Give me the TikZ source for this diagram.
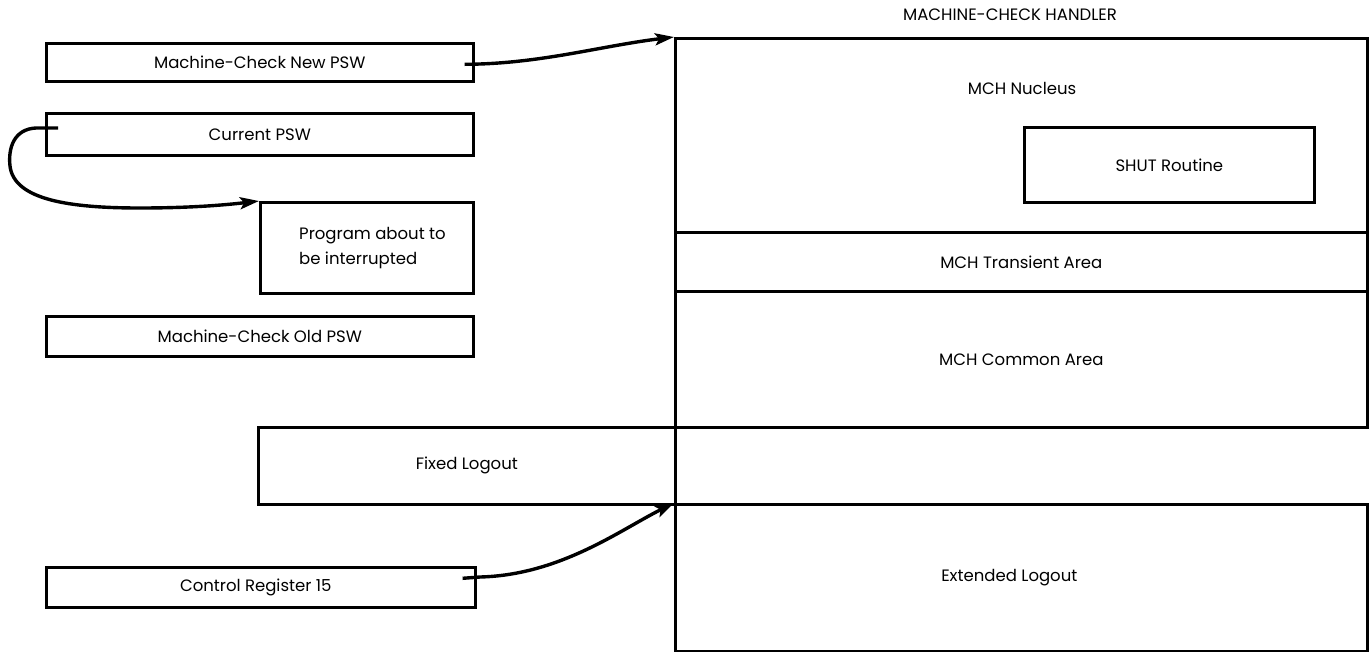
\documentclass[tikz,border=0pt]{standalone}
\usepackage{fontspec}
\setmainfont{Poppins}
\usetikzlibrary{arrows.meta}
\begin{document}
\begin{tikzpicture}[x=1pt,y=-1pt,
  box/.style={draw, line width=2.6pt, rectangle, anchor=north west, inner sep=0pt},
  lbl/.style={font=\fontsize{16.5}{25}\selectfont, inner sep=0pt},
  flow/.style={line width=3.4pt, -{Stealth[length=19pt,width=12pt,inset=4pt]}}]
\useasboundingbox (0,0) rectangle (1370,651);
\fill[white] (0,0) rectangle (1370,651);

% left column
\node[box, minimum width=427pt, minimum height=38pt] (newpsw) at (45,42) {};
\node[lbl] at (newpsw.center) {Machine-Check New PSW};
\node[box, minimum width=427pt, minimum height=42pt] (curpsw) at (45,112) {};
\node[lbl] at (curpsw.center) {Current PSW};
\node[box, minimum width=213pt, minimum height=91pt] (prog) at (259,201) {};
\node[lbl, align=left, anchor=west] at (299,248) {Program about to\\be interrupted};
\node[box, minimum width=427pt, minimum height=40pt] (oldpsw) at (45,315) {};
\node[lbl] at (oldpsw.center) {Machine-Check Old PSW};
\node[box, minimum width=417pt, minimum height=77pt] (fixed) at (257,426) {};
\node[lbl] at (fixed.center) {Fixed Logout};
\node[box, minimum width=429pt, minimum height=40pt] (cr15) at (45,566) {};
\node[lbl] at ([xshift=-5pt]cr15.center) {Control Register 15};

% machine-check handler
\node[lbl] (title) at (1010,15) {MACHINE-CHECK HANDLER};
\node[box, minimum width=692pt, minimum height=194pt] (nucleus) at (674,37) {};
\node[lbl] at (1022,88) {MCH Nucleus};
\node[box, minimum width=290pt, minimum height=75pt] (shut) at (1023,126) {};
\node[lbl] at (shut.center) {SHUT Routine};
\node[box, minimum width=692pt, minimum height=59pt] (trans) at (674,231) {};
\node[lbl] at (trans.center) {MCH Transient Area};
\node[box, minimum width=692pt, minimum height=136pt] (common) at (674,290) {};
\node[lbl] at (common.center) {MCH Common Area};
\node[box, minimum width=692pt, minimum height=147pt] (ext) at (674,503) {};
\node[lbl] at ([xshift=-12pt]ext.center) {Extended Logout};

% connectors
\coordinate (s1) at ([xshift=-10pt,yshift=-2pt]newpsw.east);
\draw[flow] (s1) .. controls (540,64) and (600,46) .. (nucleus.north west);
\coordinate (s2) at (58,128);
\draw[flow] (s2) -- (36,128) .. controls (14,129) and (8,148) .. (10,166)
  .. controls (14,200) and (70,208) .. (140,208)
  .. controls (190,208) and (225,205) .. (prog.north west);
\coordinate (s3) at ([xshift=-14pt,yshift=9pt]cr15.east);
\draw[flow] (s3) -- (480,577) .. controls (560,575) and (620,530) .. (ext.north west);
\end{tikzpicture}
\end{document}
